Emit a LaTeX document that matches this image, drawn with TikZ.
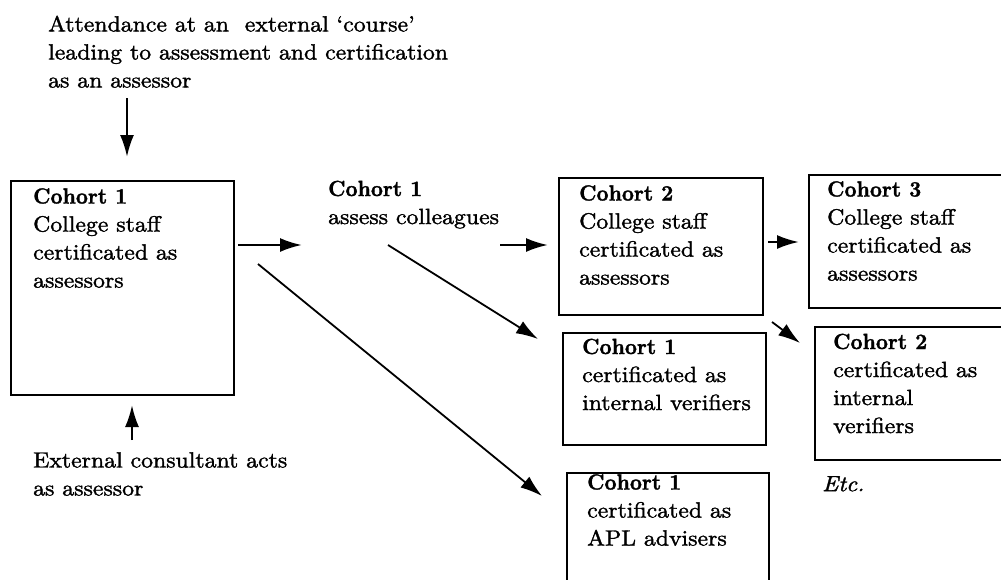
\documentclass[tikz,border=0pt]{standalone}
\usepackage{fontspec}
\setmainfont{lmroman10-regular}[Extension=.otf,
  BoldFont=lmroman10-bold, ItalicFont=lmroman10-italic,
  UprightFeatures={FakeStretch=1.08, FakeBold=1.6},
  BoldFeatures={FakeStretch=0.95, FakeBold=1.4},
  ItalicFeatures={FakeStretch=1.08, FakeBold=1.6}]
\usetikzlibrary{arrows.meta}
\begin{document}
\begin{tikzpicture}[x=1pt,y=-1pt,
  txt/.style={anchor=north west, inner sep=0pt, align=left, font=\fontsize{22}{28}\selectfont},
  boxnode/.style={draw, line width=1.8pt, inner sep=0pt, anchor=north west},
  arr/.style={line width=2.4pt, -{Latex[length=22pt,width=14pt]}},
  darr/.style={line width=1.8pt, -{Latex[length=22pt,width=14pt]}}]
\useasboundingbox (0,0) rectangle (1001,579);
\clip (0,0) rectangle (1001,579);
\fill[white] (0,0) rectangle (1001,579);
% boxes
\node[boxnode, minimum width=223pt, minimum height=214pt] (b1) at (10,180) {};
\node[boxnode, minimum width=204pt, minimum height=137pt] (c2) at (558,177) {};
\node[boxnode, minimum width=250pt, minimum height=133pt] (c3) at (808,174) {};
\node[boxnode, minimum width=203pt, minimum height=112pt] (iv1) at (562,332) {};
\node[boxnode, minimum width=250pt, minimum height=133pt] (iv2) at (814,326) {};
\node[boxnode, minimum width=202pt, minimum height=150pt] (apl) at (566,472) {};
% texts
\node[txt] (top) at (48,15.5) {Attendance at an\ \ external `course'\\leading to assessment and certification\\as an assessor};
\node[txt] (b1t) at (33,188) {\textbf{Cohort 1}\\College staff\\certificated as\\assessors};
\node[txt] (ass) at (328,180.5) {\textbf{Cohort 1}\\assess colleagues};
\node[txt] (c2t) at (579,185) {\textbf{Cohort 2}\\College staff\\certificated as\\assessors};
\node[txt] (c3t) at (827,181) {\textbf{Cohort 3}\\College staff\\certificated as\\assessors};
\node[txt] (iv1t) at (582,338.5) {\textbf{Cohort 1}\\certificated as\\internal verifiers};
\node[txt] (iv2t) at (833,333.5) {\textbf{Cohort 2}\\certificated as\\internal\\verifiers};
\node[txt] (aplt) at (587,474) {\textbf{Cohort 1}\\certificated as\\APL advisers};
\node[txt] (etc) at (822,476) {\textit{Etc.}};
\node[txt] (ext) at (33,452) {External consultant acts\\as assessor};
% connector ends
\coordinate (d1) at (127,98);   \coordinate (d2) at (127,157);
\coordinate (u1) at (132,440);  \coordinate (u2) at (132,405);
\coordinate (h1) at (238,245);  \coordinate (h2) at (302,245);
\coordinate (h3) at (500,245);  \coordinate (h4) at (548,245);
\coordinate (h5) at (768,242);  \coordinate (h6) at (799,242);
\coordinate (m1) at (388,245);  \coordinate (m2) at (538,339);
\coordinate (l1) at (258,264);  \coordinate (l2) at (542,496);
\coordinate (s1) at (772,322);  \coordinate (s2) at (800,343);
% arrows
\draw[arr] (d1) -- (d2);
\draw[arr] (u1) -- (u2);
\draw[arr] (h1) -- (h2);
\draw[arr] (h3) -- (h4);
\draw[arr] (h5) -- (h6);
\draw[darr] (m1) -- (m2);
\draw[darr] (l1) -- (l2);
\draw[darr] (s1) -- (s2);
\end{tikzpicture}
\end{document}
